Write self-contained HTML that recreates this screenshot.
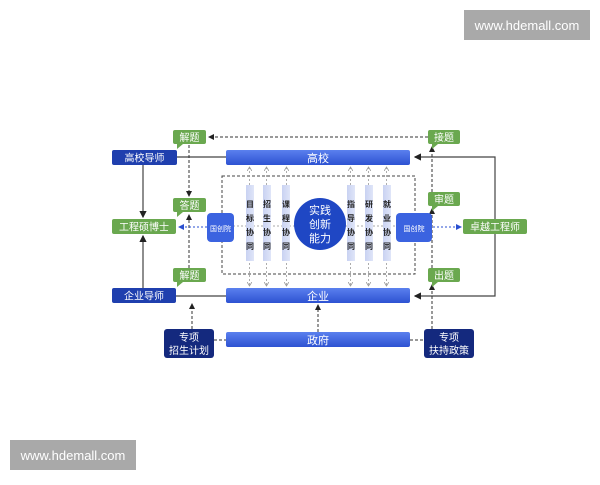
<!DOCTYPE html>
<html><head><meta charset="utf-8"><style>
html,body{margin:0;padding:0;background:#fff}
svg text{font-family:"Liberation Sans","Noto Sans CJK SC",sans-serif}
</style></head><body>
<svg width="600" height="480" viewBox="0 0 600 480" xmlns="http://www.w3.org/2000/svg">
<defs>
<linearGradient id="bar" x1="0" y1="0" x2="0" y2="1"><stop offset="0" stop-color="#5a80ee"/><stop offset="1" stop-color="#2d52d2"/></linearGradient>
<linearGradient id="vb" x1="0" y1="0" x2="1" y2="0"><stop offset="0" stop-color="#c9d2f2"/><stop offset="1" stop-color="#dfe5f8"/></linearGradient>
<marker id="a" markerWidth="6" markerHeight="6" refX="5" refY="3" orient="auto"><path d="M0,0 L6,3 L0,6z" fill="#222"/></marker>
<marker id="ab" markerWidth="6" markerHeight="6" refX="5" refY="3" orient="auto"><path d="M0,0 L6,3 L0,6z" fill="#2a4fd0"/></marker>
<marker id="g" markerWidth="6" markerHeight="6" refX="5" refY="3" orient="auto"><path d="M0,0 L5,3 L0,6" fill="none" stroke="#999"/></marker>
<marker id="gs" markerWidth="6" markerHeight="6" refX="1" refY="3" orient="auto"><path d="M6,0 L1,3 L6,6" fill="none" stroke="#999"/></marker>
</defs>
<rect x="464" y="10" width="126" height="30" fill="#a9a9a9"/>
<text x="527" y="30" font-size="13" fill="#fff" text-anchor="middle">www.hdemall.com</text>
<rect x="10" y="440" width="126" height="30" fill="#a9a9a9"/>
<text x="73" y="460" font-size="13" fill="#fff" text-anchor="middle">www.hdemall.com</text>

<!-- dashed frame -->
<rect x="222" y="176" width="193" height="98" fill="none" stroke="#444" stroke-dasharray="3,2"/>
<line x1="233" y1="226" x2="396" y2="226" stroke="#aaa" stroke-dasharray="2,2"/>

<!-- solid lines -->
<g stroke="#444" stroke-width="1.2" fill="none">
<line x1="177" y1="157" x2="226" y2="157"/>
<line x1="176" y1="296" x2="226" y2="296"/>
<line x1="143" y1="165" x2="143" y2="217" marker-end="url(#a)"/>
<line x1="143" y1="288" x2="143" y2="236" marker-end="url(#a)"/>
<polyline points="495,219 495,157 415,157" marker-end="url(#a)"/>
<polyline points="495,234 495,296 415,296" marker-end="url(#a)"/>
</g>
<!-- dashed black arrows -->
<g stroke="#333" stroke-width="1" fill="none" stroke-dasharray="3,2">
<line x1="428" y1="137" x2="209" y2="137" marker-end="url(#a)"/>
<line x1="189" y1="145" x2="189" y2="196" marker-end="url(#a)"/>
<line x1="189" y1="268" x2="189" y2="215" marker-end="url(#a)"/>
<line x1="192" y1="329" x2="192" y2="304" marker-end="url(#a)"/>
<line x1="318" y1="332" x2="318" y2="305" marker-end="url(#a)"/>
<line x1="214" y1="340" x2="226" y2="340"/>
<line x1="410" y1="340" x2="424" y2="340"/>
<line x1="432" y1="329" x2="432" y2="285" marker-end="url(#a)"/>
<line x1="432" y1="268" x2="432" y2="209" marker-end="url(#a)"/>
<line x1="432" y1="192" x2="432" y2="147" marker-end="url(#a)"/>
</g>
<g stroke="#2a4fd0" stroke-width="1" stroke-dasharray="2,2" fill="none">
<line x1="207" y1="227" x2="179" y2="227" marker-end="url(#ab)"/>
<line x1="433" y1="227" x2="461" y2="227" marker-end="url(#ab)"/>
</g>
<!-- vertical gray double arrows -->
<g stroke="#999" stroke-width="0.8" stroke-dasharray="2,2" fill="none">
<line x1="249.5" y1="167" x2="249.5" y2="286" marker-start="url(#gs)" marker-end="url(#g)"/>
<line x1="266.5" y1="167" x2="266.5" y2="286" marker-start="url(#gs)" marker-end="url(#g)"/>
<line x1="286.5" y1="167" x2="286.5" y2="286" marker-start="url(#gs)" marker-end="url(#g)"/>
<line x1="350.5" y1="167" x2="350.5" y2="286" marker-start="url(#gs)" marker-end="url(#g)"/>
<line x1="368.5" y1="167" x2="368.5" y2="286" marker-start="url(#gs)" marker-end="url(#g)"/>
<line x1="386.5" y1="167" x2="386.5" y2="286" marker-start="url(#gs)" marker-end="url(#g)"/>
</g>

<!-- bars -->
<rect x="226" y="150" width="184" height="15" rx="2" fill="url(#bar)"/>
<text x="318" y="162" font-size="11" fill="#fff" text-anchor="middle">高校</text>
<rect x="226" y="288" width="184" height="15" rx="2" fill="url(#bar)"/>
<text x="318" y="300" font-size="11" fill="#fff" text-anchor="middle">企业</text>
<rect x="226" y="332" width="184" height="15" rx="2" fill="url(#bar)"/>
<text x="318" y="344" font-size="11" fill="#fff" text-anchor="middle">政府</text>

<!-- vertical bars -->
<g fill="url(#vb)">
<rect x="246" y="185" width="8" height="76"/><rect x="263" y="185" width="8" height="76"/><rect x="282" y="185" width="8" height="76"/>
<rect x="347" y="185" width="8" height="76"/><rect x="365" y="185" width="8" height="76"/><rect x="383" y="185" width="8" height="76"/>
</g>
<g font-size="8" font-weight="bold" fill="#222" text-anchor="middle">
<text x="250" y="207">目</text><text x="250" y="221">标</text><text x="250" y="235">协</text><text x="250" y="249">同</text>
<text x="267" y="207">招</text><text x="267" y="221">生</text><text x="267" y="235">协</text><text x="267" y="249">同</text>
<text x="286" y="207">课</text><text x="286" y="221">程</text><text x="286" y="235">协</text><text x="286" y="249">同</text>
<text x="351" y="207">指</text><text x="351" y="221">导</text><text x="351" y="235">协</text><text x="351" y="249">同</text>
<text x="369" y="207">研</text><text x="369" y="221">发</text><text x="369" y="235">协</text><text x="369" y="249">同</text>
<text x="387" y="207">就</text><text x="387" y="221">业</text><text x="387" y="235">协</text><text x="387" y="249">同</text>
</g>

<circle cx="320" cy="224" r="26" fill="#1f47c4"/>
<g font-size="11" fill="#fff" text-anchor="middle">
<text x="320" y="214">实践</text><text x="320" y="228">创新</text><text x="320" y="242">能力</text></g>

<!-- 国创院 -->
<rect x="207" y="213" width="27" height="29" rx="4" fill="#3b63e0"/>
<text x="220.5" y="231" font-size="7" fill="#fff" text-anchor="middle">国创院</text>
<rect x="396" y="213" width="36" height="29" rx="4" fill="#3b63e0"/>
<text x="414" y="231" font-size="7" fill="#fff" text-anchor="middle">国创院</text>

<!-- navy boxes -->
<rect x="112" y="150" width="65" height="15" rx="2" fill="#1f3fae"/>
<text x="144.5" y="161.5" font-size="10" fill="#fff" text-anchor="middle">高校导师</text>
<rect x="112" y="288" width="64" height="15" rx="2" fill="#1f3fae"/>
<text x="144" y="299.5" font-size="10" fill="#fff" text-anchor="middle">企业导师</text>
<rect x="164" y="329" width="50" height="29" rx="3" fill="#14297e"/>
<text x="189" y="341" font-size="10" fill="#fff" text-anchor="middle">专项</text>
<text x="189" y="354" font-size="10" fill="#fff" text-anchor="middle">招生计划</text>
<rect x="424" y="329" width="50" height="29" rx="3" fill="#14297e"/>
<text x="449" y="341" font-size="10" fill="#fff" text-anchor="middle">专项</text>
<text x="449" y="354" font-size="10" fill="#fff" text-anchor="middle">扶持政策</text>

<!-- green -->
<g fill="#6aa84f">
<rect x="112" y="219" width="64" height="15" rx="2"/>
<rect x="463" y="219" width="64" height="15" rx="2"/>
<rect x="173" y="130" width="33" height="14" rx="2"/><path d="M177,144 l0,5 l6,-5z"/>
<rect x="173" y="198" width="33" height="14" rx="2"/><path d="M177,212 l0,5 l6,-5z"/>
<rect x="173" y="268" width="33" height="14" rx="2"/><path d="M177,282 l0,5 l6,-5z"/>
<rect x="428" y="130" width="32" height="14" rx="2"/><path d="M432,144 l0,5 l6,-5z"/>
<rect x="428" y="192" width="32" height="14" rx="2"/><path d="M432,206 l0,5 l6,-5z"/>
<rect x="428" y="268" width="32" height="14" rx="2"/><path d="M432,282 l0,5 l6,-5z"/>
</g>
<g font-size="10" fill="#fff" text-anchor="middle">
<text x="144" y="230.5">工程硕博士</text><text x="495" y="230.5">卓越工程师</text>
<text x="189.5" y="141">解题</text><text x="189.5" y="209">答题</text><text x="189.5" y="279">解题</text>
<text x="444" y="141">接题</text><text x="444" y="203">审题</text><text x="444" y="279">出题</text>
</g>
</svg>
</body></html>
